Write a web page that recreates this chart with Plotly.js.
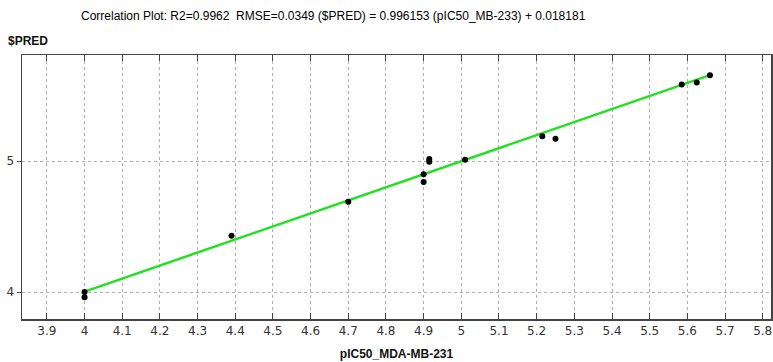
<!DOCTYPE html>
<html><head><meta charset="utf-8">
<script src="https://cdn.plot.ly/plotly-3.0.1.min.js"></script>
<style>body{margin:0;background:#fff}#chart{width:773px;height:362px}</style>
</head><body><div id="chart"></div>
<script>
const observed = [4.00, 4.00, 4.39, 4.70, 4.90, 4.90, 4.915, 4.915, 5.01, 5.215, 5.25, 5.585, 5.625, 5.66];
const predicted = [4.00, 3.96, 4.43, 4.69, 4.90, 4.84, 5.015, 4.995, 5.01, 5.19, 5.17, 5.585, 5.60, 5.655];
const slope = 0.996153;
const intercept = 0.018181;
const fitX = [4.00, 5.66];
const fitY = fitX.map(v => slope * v + intercept);
const xTicks = [3.9,4,4.1,4.2,4.3,4.4,4.5,4.6,4.7,4.8,4.9,5,5.1,5.2,5.3,5.4,5.5,5.6,5.7,5.8];
const yTicks = [4,5];

const tickFont = {family:'DejaVu Sans', size:12, color:'#333'};
const data = [
  {x: fitX, y: fitY, mode:'lines', line:{color:'#22e022', width:2.5}, hoverinfo:'skip', showlegend:false},
  {x: observed, y: predicted, mode:'markers', marker:{color:'#000', size:6}, showlegend:false}
];
const layout = {
  width:773, height:362,
  margin:{l:22, r:2, t:55, b:43},
  paper_bgcolor:'#fff', plot_bgcolor:'#fff',
  title:{text:'Correlation Plot: R2=0.9962  RMSE=0.0349 ($PRED) = 0.996153 (pIC50_MB-233) + 0.018181',
    font:{family:'Liberation Sans', size:12, color:'#000'}, x:0.431, xanchor:'center', y:0.955, yanchor:'middle'},
  xaxis:{range:[3.834,5.822], tickvals:xTicks, ticktext:xTicks.map(String), tickfont:tickFont, ticklabeloverflow:'allow',
    showline:true, linecolor:'#444', linewidth:1.5, mirror:'ticks', ticks:'inside', ticklen:6, tickcolor:'#444',
    showgrid:true, gridcolor:'#b0b0b0', griddash:'dot', gridwidth:1, zeroline:false,
    title:{text:'pIC50_MDA-MB-231', font:{family:'Liberation Sans', size:12, color:'#111', weight:'bold'}, standoff:12}},
  yaxis:{range:[3.794,5.81], tickvals:yTicks, ticktext:yTicks.map(String), tickfont:tickFont,
    showline:true, linecolor:'#444', linewidth:1.5, mirror:'ticks', ticks:'outside', ticklen:4, tickcolor:'#444',
    showgrid:true, gridcolor:'#b0b0b0', griddash:'dot', gridwidth:1, zeroline:false},
  annotations:[{text:'<b>$PRED</b>', xref:'paper', yref:'paper', x:-0.022, y:1.0, xanchor:'left', yanchor:'bottom', yshift:5,
    showarrow:false, font:{family:'Liberation Sans', size:12, color:'#111'}}]
};
Plotly.newPlot('chart', data, layout, {displayModeBar:false, staticPlot:true});
</script></body></html>
